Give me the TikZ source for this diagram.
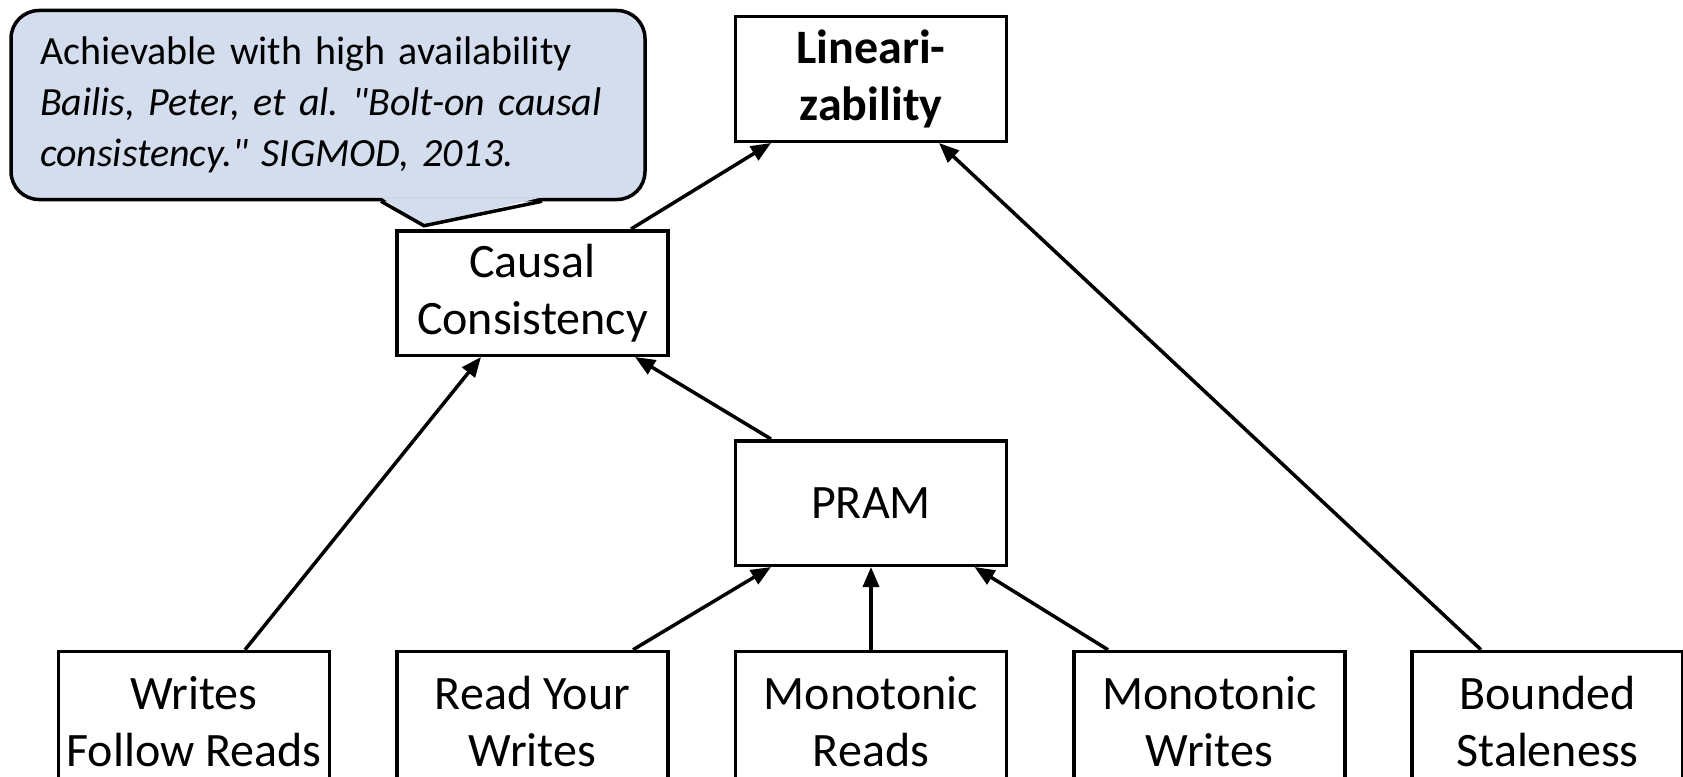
\documentclass[tikz,border=0pt]{standalone}
\usepackage{fontspec}
\setmainfont{Carlito}
\usetikzlibrary{arrows.meta,calc}
\definecolor{calloutblue}{RGB}{211,221,237}
\frenchspacing
\begin{document}
\begin{tikzpicture}[x=1pt,y=-1pt,
  box/.style={draw,line width=3.5pt,minimum width=271pt,minimum height=124.5pt,
    align=center,inner sep=0pt,font=\fontsize{48}{57}\selectfont},
  lowbox/.style={box,minimum height=140pt},
  link/.style={line width=3.5pt,-{Triangle[length=20pt,width=16pt]}},
  note/.style={draw,line width=3.5pt,fill=calloutblue,rounded corners=28pt,
    minimum width=634pt,minimum height=189pt,inner xsep=29pt,inner ysep=0pt,
    text width=576pt,align=left,font=\fontsize{40}{51}\selectfont},
]
\useasboundingbox (0,0) rectangle (1683,776);
\clip (0,0) rectangle (1683,776);

% consistency models
\node[box,font=\fontsize{48}{57}\selectfont\bfseries] (lin) at (871,79) {Lineari-\\zability};
\node[box] (causal) at (532.5,293) {Causal\\Consistency};
\node[box] (pram) at (871,503) {PRAM};
\node[lowbox] (wfr) at (194,721.5) {Writes\\Follow Reads};
\node[lowbox] (ryw) at (532.5,721.5) {Read Your\\Writes};
\node[lowbox] (mr) at (871,721.5) {Monotonic\\Reads};
\node[lowbox] (mw) at (1209.5,721.5) {Monotonic\\Writes};
\node[lowbox] (bs) at (1547.5,721.5) {Bounded\\Staleness};

% callout with its pointer towards causal consistency
\node[note] (hint) at (328,105) {Achievable with high availability\\
  \itshape Bailis, Peter, et al. \textquotedbl Bolt-on causal\\
  consistency.\textquotedbl{} SIGMOD, 2013.};
\coordinate (tailA) at ($(hint.south)+(53,0)$);
\coordinate (tailTip) at ($(hint.south)+(96,24.5)$);
\coordinate (tailB) at ($(hint.south)+(214,0)$);
\fill[calloutblue] ($(tailA)+(0,-4)$) -- (tailTip) -- ($(tailB)+(0,-4)$) -- cycle;
\draw[line width=3.5pt,line join=miter] (tailA) -- (tailTip) -- (tailB);

% implications
\draw[link] ($(causal.north)+(98.5,0)$) -- ($(lin.south)+(-100,0)$);
\draw[link] ($(bs.north)+(-66.5,0)$) -- ($(lin.south)+(68,0)$);
\draw[link] ($(wfr.north)+(51,0)$) -- ($(causal.south)+(-51.5,0)$);
\draw[link] ($(pram.north)+(-100,0)$) -- ($(causal.south)+(102.5,0)$);
\draw[link] ($(ryw.north)+(100.5,0)$) -- ($(pram.south)+(-100,0)$);
\draw[link] (mr.north) -- (pram.south);
\draw[link] ($(mw.north)+(-101.5,0)$) -- ($(pram.south)+(103.5,0)$);
\end{tikzpicture}
\end{document}
